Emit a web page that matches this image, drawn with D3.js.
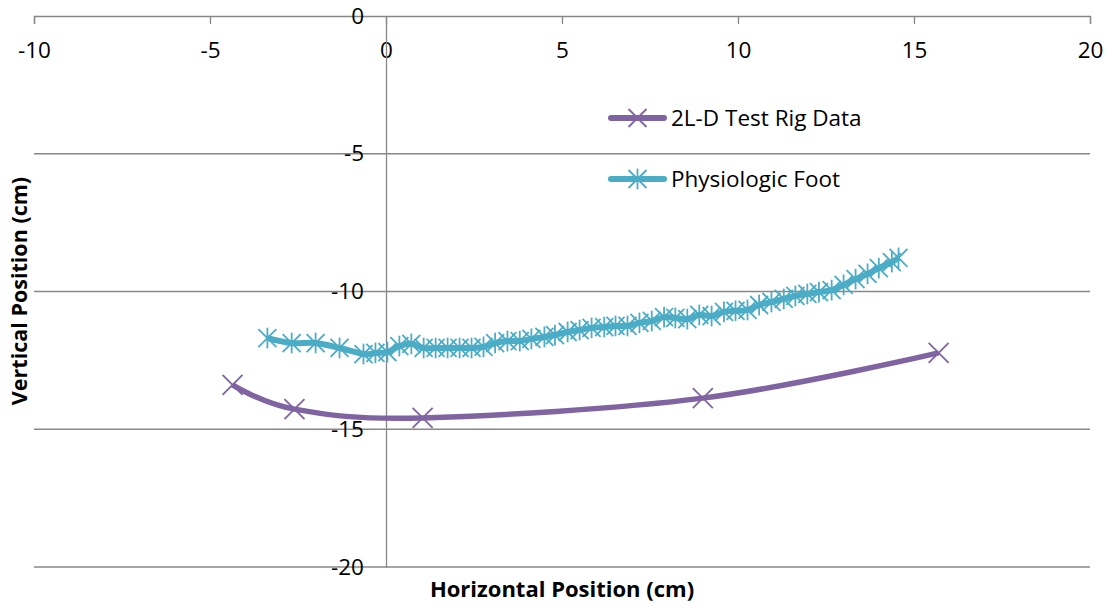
<!DOCTYPE html>
<html><head><meta charset="utf-8">
<script src="https://cdn.jsdelivr.net/npm/d3@7"></script>
<style>body{margin:0;background:#fff}svg{display:block}</style>
</head><body>
<script>
const xTicks = [-10, -5, 0, 5, 10, 15, 20];
const yTicks = [0, -5, -10, -15, -20];
const rigX = [-4.36, -2.6, 1.04, 9.0, 15.7];
const rigY = [-13.39, -14.27, -14.59, -13.87, -12.23];
const footX = [-3.37,-2.68,-2.0,-1.32,-0.64,-0.3,0.04,0.38,0.72,1.07,1.41,1.75,2.09,2.43,2.77,3.1,3.45,3.8,4.13,4.5,4.8,5.16,5.5,5.84,6.2,6.52,6.86,7.2,7.55,7.9,8.22,8.56,8.9,9.25,9.6,9.93,10.27,10.6,10.95,11.3,11.63,11.97,12.3,12.66,13.0,13.34,13.68,14.0,14.37,14.56];
const footY = [-11.69,-11.87,-11.87,-12.05,-12.27,-12.23,-12.2,-11.98,-11.9,-12.05,-12.05,-12.05,-12.05,-12.05,-12.01,-11.87,-11.8,-11.8,-11.72,-11.65,-11.58,-11.47,-11.4,-11.32,-11.29,-11.25,-11.25,-11.14,-11.07,-10.93,-10.96,-11.0,-10.85,-10.89,-10.74,-10.7,-10.67,-10.49,-10.38,-10.27,-10.16,-10.09,-10.02,-9.95,-9.76,-9.55,-9.36,-9.15,-8.93,-8.78];
const seriesNames = ["2L-D Test Rig Data", "Physiologic Foot"];
const colors = ["#8064A2", "#4BACC6"];

const W = 1115, H = 606;
const svg = d3.select("body").append("svg").attr("width", W).attr("height", H);
const x = d3.scaleLinear().domain([-10, 20]).range([34, 1090]);
const y = d3.scaleLinear().domain([0, -20]).range([16, 567]);
const font = "'Open Sans', sans-serif";
const fs = 22.5;

// gridlines
svg.append("g").selectAll("line").data(yTicks.filter(d => d !== 0)).join("line")
  .attr("x1", x(-10)).attr("x2", x(20)).attr("y1", d => y(d)).attr("y2", d => y(d))
  .attr("stroke", "#878787").attr("stroke-width", 1.3);

// x axis at y=0 (top)
const xAxis = d3.axisBottom(x).tickValues(xTicks).tickSize(8).tickFormat(d3.format("d"));
const gx = svg.append("g").attr("transform", `translate(0,${y(0)})`).call(xAxis);
gx.select(".domain").attr("stroke", "#878787").attr("stroke-width", 1.3);
gx.selectAll(".tick line").attr("stroke", "#878787").attr("stroke-width", 1.3);
gx.selectAll(".tick text").attr("font-family", font).attr("font-size", fs).attr("fill", "#000")
  .attr("y", 34).attr("dy", "0.36em")
  .text(d => d < 0 ? "-" + Math.abs(d) : d);

// y axis at x=0
const yAxis = d3.axisLeft(y).tickValues(yTicks).tickSize(0).tickPadding(22);
const gy = svg.append("g").attr("transform", `translate(${x(0)},0)`).call(yAxis);
gy.select(".domain").attr("stroke", "#878787").attr("stroke-width", 1.3);
gy.selectAll(".tick text").attr("font-family", font).attr("font-size", fs).attr("fill", "#000")
  .text(d => d < 0 ? "-" + Math.abs(d) : d);

const line = d3.line().x(d => x(d[0])).y(d => y(d[1])).curve(d3.curveCardinal.tension(0));
const rig = rigX.map((v, i) => [v, rigY[i]]);
const foot = footX.map((v, i) => [v, footY[i]]);

function xMarker(g, cx, cy, s, col, star) {
  g.append("line").attr("x1", cx - s).attr("y1", cy - s).attr("x2", cx + s).attr("y2", cy + s).attr("stroke", col).attr("stroke-width", 1.8);
  g.append("line").attr("x1", cx - s).attr("y1", cy + s).attr("x2", cx + s).attr("y2", cy - s).attr("stroke", col).attr("stroke-width", 1.8);
  if (star) g.append("line").attr("x1", cx).attr("y1", cy - s * 1.15).attr("x2", cx).attr("y2", cy + s * 1.15).attr("stroke", col).attr("stroke-width", 1.8);
}

svg.append("path").datum(rig).attr("d", line).attr("fill", "none").attr("stroke", colors[0]).attr("stroke-width", 5.5);
const gm1 = svg.append("g");
rig.forEach(p => xMarker(gm1, x(p[0]), y(p[1]), 10, colors[0], false));

svg.append("path").datum(foot).attr("d", line).attr("fill", "none").attr("stroke", colors[1]).attr("stroke-width", 6);
const gm2 = svg.append("g");
foot.forEach(p => xMarker(gm2, x(p[0]), y(p[1]), 9, colors[1], true));

// legend
const leg = svg.append("g");
seriesNames.forEach((n, i) => {
  const ly = 118 + i * 61;
  leg.append("line").attr("x1", 611).attr("x2", 664).attr("y1", ly).attr("y2", ly)
    .attr("stroke", colors[i]).attr("stroke-width", 6).attr("stroke-linecap", "round");
  xMarker(leg, 637.5, ly, 9, colors[i], i === 1);
  leg.append("text").attr("x", 671).attr("y", ly).attr("dy", "0.36em")
    .attr("font-family", font).attr("font-size", fs).attr("fill", "#000").text(n);
});

// axis titles
svg.append("text").attr("x", 562).attr("y", 589).attr("dy", "0.36em").attr("text-anchor", "middle")
  .attr("font-family", font).attr("font-size", 22).attr("font-weight", "bold").text("Horizontal Position (cm)");
svg.append("text").attr("transform", "translate(19,291) rotate(-90)").attr("dy", "0.36em").attr("text-anchor", "middle")
  .attr("font-family", font).attr("font-size", 21.5).attr("font-weight", "bold").text("Vertical Position (cm)");
</script>
</body></html>
